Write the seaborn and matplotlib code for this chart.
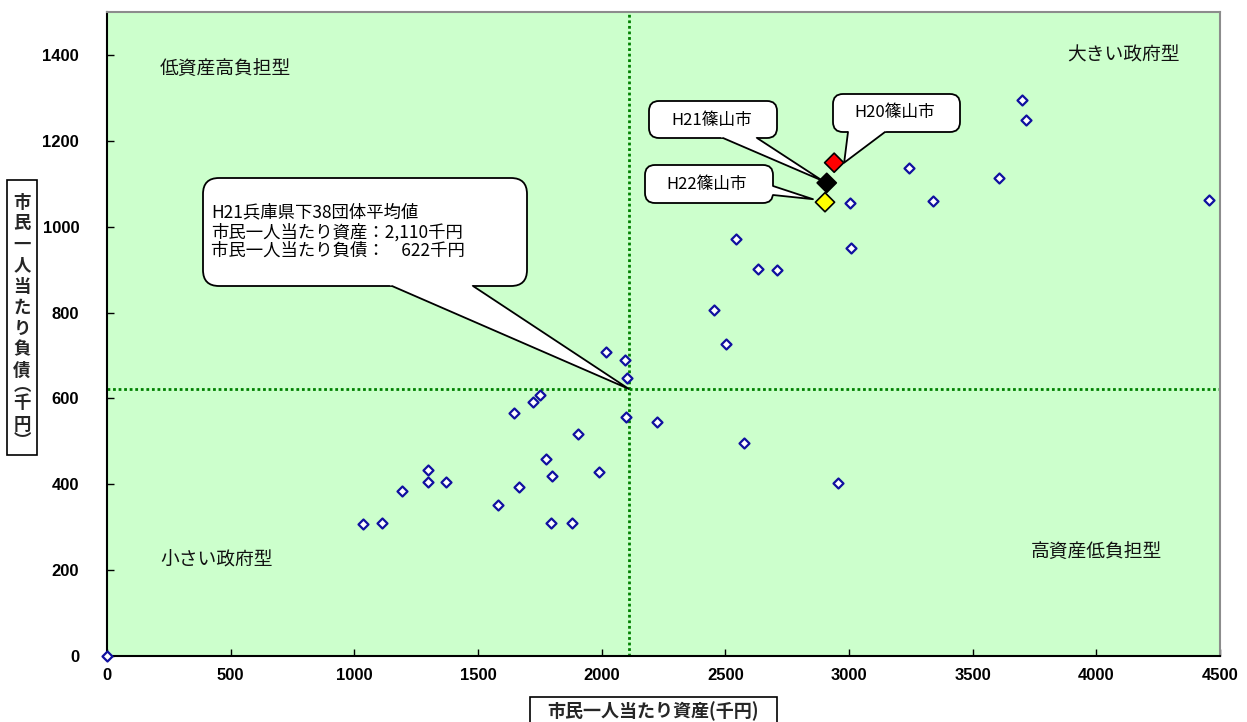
import matplotlib
matplotlib.use("Agg")  # headless
import matplotlib.pyplot as plt
import matplotlib.transforms as mtransforms
from matplotlib.patches import FancyBboxPatch, Polygon, Rectangle
from matplotlib.lines import Line2D
import numpy as np
import pandas as pd
import seaborn as sns

# per-capita assets / debts of the 38 municipalities (千円)
asset = [0, 1035, 1110, 1194, 1299, 1296, 1371, 1581, 1647, 1665,
         1721, 1750, 1773, 1794, 1801, 1880, 1903, 1990, 2019, 2093,
         2104, 2099, 2224, 2454, 2502, 2543, 2575, 2633, 2707, 2955,
         3003, 3008, 3243, 3339, 3608, 3700, 3716, 4457]
debt = [0, 307, 310, 385, 433, 405, 405, 352, 567, 393,
        591, 609, 460, 309, 420, 310, 516, 429, 709, 689,
        648, 556, 546, 806, 726, 971, 495, 902, 900, 404,
        1054, 950, 1137, 1060, 1113, 1296, 1248, 1063]

# 篠山市 by year
sasayama_labels = ["H20篠山市", "H21篠山市", "H22篠山市"]
sasayama_asset = [2940, 2910, 2903]
sasayama_debt = [1149, 1102, 1057]
sasayama_colors = ["#FF0000", "#000000", "#FFFF00"]

mean_asset = 2110
mean_debt = 622

quadrant_labels = ["低資産高負担型", "大きい政府型", "小さい政府型", "高資産低負担型"]
x_ticks = list(range(0, 4501, 500))
y_ticks = list(range(0, 1401, 200))
x_label = "市民一人当たり資産(千円)"
y_label = "市民一人当たり負債︵千円︶"

W, H = 1247, 722
sns.set_theme(style="white")
plt.rcParams["font.family"] = ["Noto Sans CJK JP", "DejaVu Sans"]

fig = plt.figure(figsize=(W / 100, H / 100), dpi=100)
ax = fig.add_axes([107 / W, 1 - 656 / H, (1220 - 107) / W, (656 - 12) / H])
ax.set_facecolor("#CCFFCC")
ax.set_xlim(0, 4500)
ax.set_ylim(0, 1500)

# image pixel coordinates, origin top-left
PX = mtransforms.Affine2D().scale(1 / W, -1 / H).translate(0, 1) + fig.transFigure


def to_px(x, y):
    dx, dy = ax.transData.transform((x, y))
    return dx, H - dy


# average lines
ax.axvline(mean_asset, color="#008000", ls=(0, (1, 1)), lw=2, zorder=2)
ax.axhline(mean_debt, color="#008000", ls=(0, (1, 1)), lw=2, zorder=2)

df = pd.DataFrame({"asset": asset, "debt": debt})
sns.scatterplot(data=df, x="asset", y="debt", marker="D", s=26, color="white",
                edgecolor="#1010A0", linewidth=1.6, ax=ax, zorder=4, clip_on=False)

hl = pd.DataFrame({"label": sasayama_labels, "asset": sasayama_asset, "debt": sasayama_debt})
sns.scatterplot(data=hl, x="asset", y="debt", hue="label", palette=sasayama_colors,
                marker="D", s=95, edgecolor="black", linewidth=1.2,
                legend=False, ax=ax, zorder=9)


def callout(lines, box, base, tip, fs, rounding=10):
    x0, y0, x1, y1 = box
    ax.add_patch(FancyBboxPatch((x0, y0), x1 - x0, y1 - y0,
                                boxstyle=f"round,pad=0,rounding_size={rounding}",
                                transform=PX, fc="white", ec="black", lw=1.3,
                                zorder=6, clip_on=False))
    tip = np.array(tip, dtype=float)
    # push the base corners a little into the box along each side of the tail
    inner = []
    for b in base:
        b = np.array(b, dtype=float)
        d = b - tip
        inner.append(b + d / np.hypot(*d) * 4)
    ax.add_patch(Polygon([inner[0], inner[1], tip], closed=True, transform=PX,
                         fc="white", ec="none", zorder=7, clip_on=False))
    ax.add_line(Line2D([base[0][0], tip[0], base[1][0]], [base[0][1], tip[1], base[1][1]],
                       transform=PX, color="black", lw=1.3, zorder=7, clip_on=False))
    for (tx, ty, s, ha) in lines:
        ax.text(tx, ty, s, transform=PX, fontsize=fs, ha=ha, va="center",
                color="black", zorder=8, clip_on=False)


# mean callout
tx, ty = to_px(mean_asset, mean_debt)
callout([(211, 212, "H21兵庫県下38団体平均値", "left"),
         (211, 232, f"市民一人当たり資産：{mean_asset:,}千円", "left"),
         (211, 251, f"市民一人当たり負債：\u2007\u2008{mean_debt}千円", "left")],
        (203, 178, 527, 286), [(392, 286), (473, 286)], (tx, ty), 12.5, rounding=16)

# H20
mx, my = to_px(sasayama_asset[0], sasayama_debt[0])
callout([(895, 113, sasayama_labels[0], "center")], (833, 94, 960, 132),
        [(848, 132), (885, 132)], (mx + 10, my), 12)
# H21
mx, my = to_px(sasayama_asset[1], sasayama_debt[1])
callout([(712, 120, sasayama_labels[1], "center")], (649, 101, 777, 138),
        [(723, 138), (757, 138)], (mx - 4, my - 2), 12)
# H22
mx, my = to_px(sasayama_asset[2], sasayama_debt[2])
callout([(707, 185, sasayama_labels[2], "center")], (645, 165, 773, 203),
        [(773, 186), (773, 195)], (mx - 12, my - 3), 12)

# quadrant labels
for s, (qx, qy, ha) in zip(quadrant_labels, [(160, 69, "left"), (1180, 55, "right"),
                                             (160, 560, "left"), (1162, 552, "right")]):
    ax.text(qx, qy, s, transform=PX, fontsize=13.5, ha=ha, va="center", color="#111111")

# ticks
ax.set_xticks(x_ticks)
ax.set_yticks(y_ticks)
ax.tick_params(direction="in", length=5, width=1, colors="black",
               bottom=True, left=True, top=False, right=False)
ax.tick_params(axis="x", pad=9)
ax.tick_params(axis="y", pad=20)
for lab in ax.get_xticklabels() + ax.get_yticklabels():
    lab.set_fontfamily("Liberation Sans")
    lab.set_fontweight("bold")
    lab.set_fontsize(12)
ax.set_xlabel("")
ax.set_ylabel("")

for side in ["left", "bottom"]:
    ax.spines[side].set_color("black")
    ax.spines[side].set_linewidth(1.5)
for side in ["top", "right"]:
    ax.spines[side].set_color("#8C8C8C")
    ax.spines[side].set_linewidth(1.5)

# y axis title: boxed, stacked vertically
fig.add_artist(Rectangle((7, 180), 30, 275, transform=PX, fc="white", ec="black", lw=1.2))
cy = 192
for ch in y_label:
    h = 12 if ch in "︵︶" else 21
    fig.text(22, cy + h / 2, ch, transform=PX, fontsize=12.5, fontweight="bold",
             ha="center", va="center")
    cy += h

# x axis title: boxed
fig.add_artist(Rectangle((530, 697), 247, 30, transform=PX, fc="white", ec="black", lw=1.2))
fig.text(653, 711, x_label, transform=PX, fontsize=13, fontweight="bold",
         ha="center", va="center")

fig.savefig("out.png", dpi=100)
plt.close(fig)
